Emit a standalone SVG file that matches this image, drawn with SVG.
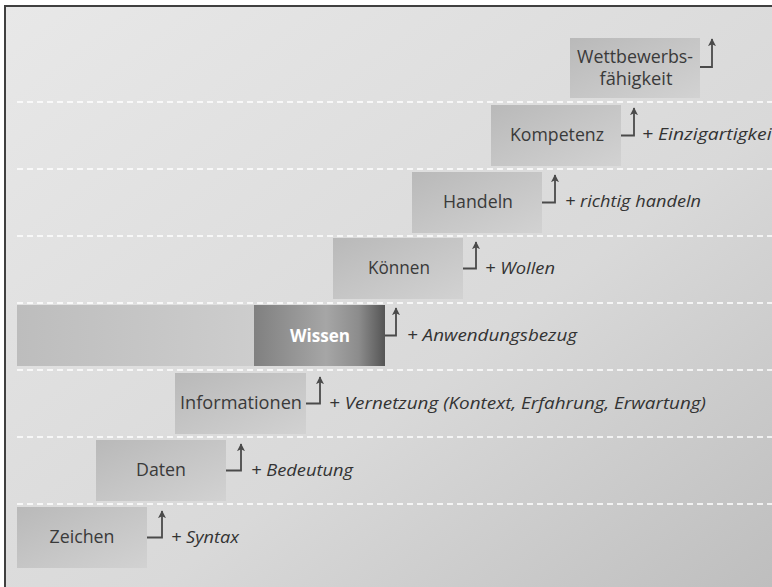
<svg xmlns="http://www.w3.org/2000/svg" width="772" height="587" viewBox="0 0 772 587">
<defs>
<linearGradient id="bg" x1="0" y1="0" x2="1" y2="1">
<stop offset="0" stop-color="#e8e8e8"/>
<stop offset="0.6" stop-color="#d9d9d9"/>
<stop offset="1" stop-color="#bebebe"/>
</linearGradient>
<linearGradient id="box" x1="0" y1="0" x2="1" y2="1">
<stop offset="0" stop-color="#b9b9b9"/>
<stop offset="1" stop-color="#d2d2d2"/>
</linearGradient>
<linearGradient id="wide" x1="0" y1="0" x2="1" y2="0">
<stop offset="0" stop-color="#bdbdbd"/>
<stop offset="1" stop-color="#cdcdcd"/>
</linearGradient>
<linearGradient id="dark" x1="0" y1="0" x2="1" y2="0">
<stop offset="0" stop-color="#808080"/>
<stop offset="0.55" stop-color="#a6a6a6"/>
<stop offset="0.8" stop-color="#8c8c8c"/>
<stop offset="1" stop-color="#555555"/>
</linearGradient>
<marker id="arr" viewBox="0 0 10 10" refX="9" refY="5" markerWidth="8" markerHeight="9" markerUnits="userSpaceOnUse" orient="auto">
<path d="M0,0 L10,5 L0,10 L2.5,5 z" fill="#4a4a4a"/>
</marker>
<style>
.b{fill:url(#box)}
.lbl{font-family:"Open Sans","Liberation Sans",sans-serif;font-size:18px;fill:#3a3a3a;text-anchor:middle}
.ann{font-family:"Open Sans","Liberation Sans",sans-serif;font-size:17px;font-style:italic;fill:#333}
.c{fill:none;stroke:#4a4a4a;stroke-width:1.8;marker-end:url(#arr)}
.sep{stroke:#ffffff;stroke-width:1.5;stroke-dasharray:6 4;fill:none}
</style>
</defs>
<rect x="0" y="0" width="772" height="587" fill="#ffffff"/>
<rect x="5" y="6" width="767" height="581" fill="url(#bg)"/>
<path d="M5,587 V6 H772" fill="none" stroke="#404040" stroke-width="2"/>
<g id="separators">
<path class="sep" d="M17,102 H772 M17,169 H772 M17,236 H772 M17,303 H772 M17,370 H772 M17,437 H772 M17,504 H772"/>
</g>
<g id="zeichen">
<rect class="b" x="17" y="507" width="130" height="61"/>
<text class="lbl" x="82" y="543" textLength="65" lengthAdjust="spacingAndGlyphs">Zeichen</text>
<text class="ann" x="171" y="543" textLength="68" lengthAdjust="spacingAndGlyphs">+ Syntax</text>
</g>
<g id="daten">
<rect class="b" x="96" y="440" width="130" height="61"/>
<text class="lbl" x="161" y="476" textLength="50" lengthAdjust="spacingAndGlyphs">Daten</text>
<text class="ann" x="251" y="476" textLength="102" lengthAdjust="spacingAndGlyphs">+ Bedeutung</text>
</g>
<g id="informationen">
<rect class="b" x="175" y="373" width="131" height="61"/>
<text class="lbl" x="241" y="409" textLength="122" lengthAdjust="spacingAndGlyphs">Informationen</text>
<text class="ann" x="329" y="409" textLength="377" lengthAdjust="spacingAndGlyphs">+ Vernetzung (Kontext, Erfahrung, Erwartung)</text>
</g>
<g id="wissen">
<rect x="17" y="305" width="238" height="61" fill="url(#wide)"/>
<rect x="254" y="305" width="131" height="61" fill="url(#dark)"/>
<text x="320" y="342" textLength="60" lengthAdjust="spacingAndGlyphs" style="font-family:'Open Sans','Liberation Sans',sans-serif;font-size:18px;font-weight:bold;fill:#ffffff;text-anchor:middle">Wissen</text>
<text class="ann" x="407" y="341" textLength="170" lengthAdjust="spacingAndGlyphs">+ Anwendungsbezug</text>
</g>
<g id="koennen">
<rect class="b" x="333" y="238" width="130" height="61"/>
<text class="lbl" x="399" y="274" textLength="62" lengthAdjust="spacingAndGlyphs">Können</text>
<text class="ann" x="485" y="274" textLength="70" lengthAdjust="spacingAndGlyphs">+ Wollen</text>
</g>
<g id="handeln">
<rect class="b" x="412" y="172" width="130" height="61"/>
<text class="lbl" x="478" y="208" textLength="70" lengthAdjust="spacingAndGlyphs">Handeln</text>
<text class="ann" x="565" y="207" textLength="136" lengthAdjust="spacingAndGlyphs">+ richtig handeln</text>
</g>
<g id="kompetenz">
<rect class="b" x="491" y="105" width="130" height="61"/>
<text class="lbl" x="557" y="141" textLength="94" lengthAdjust="spacingAndGlyphs">Kompetenz</text>
<text class="ann" x="642" y="140" textLength="136" lengthAdjust="spacingAndGlyphs">+ Einzigartigkeit</text>
</g>
<g id="wettbewerbsfaehigkeit">
<rect class="b" x="570" y="38" width="130" height="60"/>
<text class="lbl" x="635" y="63" textLength="116" lengthAdjust="spacingAndGlyphs">Wettbewerbs-</text>
<text class="lbl" x="636" y="85" textLength="73" lengthAdjust="spacingAndGlyphs">fähigkeit</text>
</g>
<g id="connectors">
<path class="c" d="M147,537.5 H162 V511"/>
<path class="c" d="M226,470.5 H241 V444"/>
<path class="c" d="M306,403.5 H320 V377"/>
<path class="c" d="M385,335.5 H396 V308"/>
<path class="c" d="M463,268.5 H476 V242"/>
<path class="c" d="M542,202.5 H555 V175"/>
<path class="c" d="M621,135.5 H634 V108"/>
<path class="c" d="M700,67 H712 V39"/>
</g>
</svg>
